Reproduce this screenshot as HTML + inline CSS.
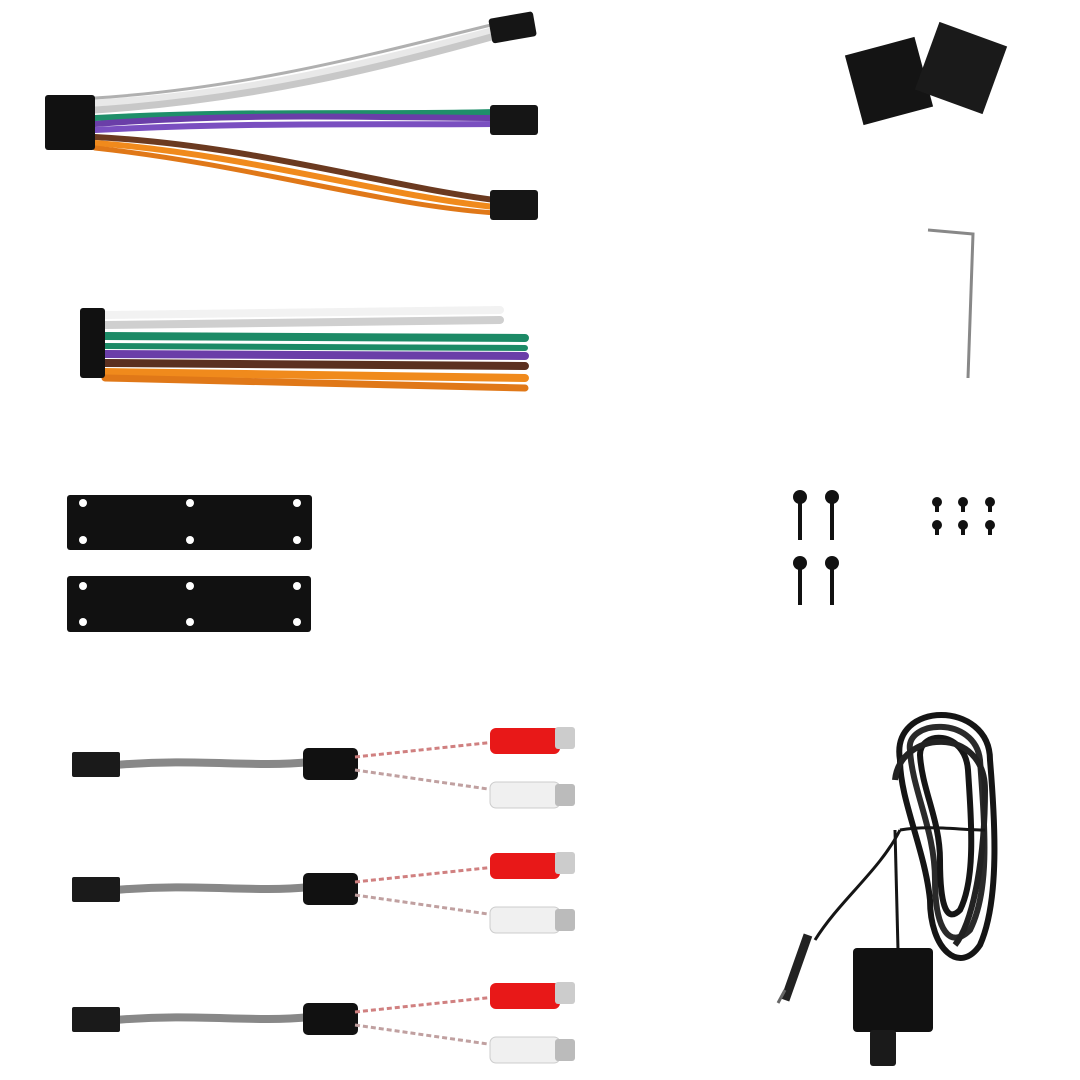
<!DOCTYPE html>
<html><head><meta charset="utf-8"><style>html,body{margin:0;padding:0;background:#fff}svg{display:block}</style></head>
<body>
<svg width="1080" height="1080" viewBox="0 0 1080 1080" xmlns="http://www.w3.org/2000/svg">
<g fill="none" stroke-linecap="round">
<path d="M95 103 C250 95 380 60 495 30" stroke="#e8e8e8" stroke-width="7"/>
<path d="M95 110 C250 100 380 68 495 36" stroke="#c8c8c8" stroke-width="7"/>
<path d="M95 98 C250 88 380 52 495 24" stroke="#b0b0b0" stroke-width="3"/>
<path d="M95 118 C250 110 380 115 495 112" stroke="#1f8f6a" stroke-width="6"/>
<path d="M95 124 C250 112 380 118 495 118" stroke="#6a3ea8" stroke-width="6"/>
<path d="M95 130 C250 122 380 125 495 124" stroke="#7a4fc0" stroke-width="6"/>
<path d="M95 137 C250 145 380 185 495 200" stroke="#6b3a20" stroke-width="6"/>
<path d="M95 143 C250 155 380 195 495 207" stroke="#f08a1c" stroke-width="6"/>
<path d="M95 148 C250 165 380 205 495 213" stroke="#e07818" stroke-width="5"/>
<path d="M105 315 L500 310" stroke="#f2f2f2" stroke-width="8"/>
<path d="M105 325 L500 320" stroke="#cfcfcf" stroke-width="8"/>
<path d="M105 336 L525 338" stroke="#1c8a66" stroke-width="8"/>
<path d="M105 346 L525 348" stroke="#1c8a66" stroke-width="6"/>
<path d="M105 354 L525 356" stroke="#6a3ea8" stroke-width="8"/>
<path d="M105 363 L525 366" stroke="#5b3020" stroke-width="8"/>
<path d="M105 372 L525 378" stroke="#f08a1c" stroke-width="8"/>
<path d="M105 378 L525 388" stroke="#e07818" stroke-width="7"/>
</g>
<rect x="45" y="95" width="50" height="55" rx="3" fill="#111"/>
<rect x="490" y="15" width="45" height="25" rx="3" fill="#151515" transform="rotate(-10 512 27)"/>
<rect x="490" y="105" width="48" height="30" rx="3" fill="#151515"/>
<rect x="490" y="190" width="48" height="30" rx="3" fill="#151515"/>
<rect x="80" y="308" width="25" height="70" rx="3" fill="#111"/>
<rect x="67" y="495" width="245" height="55" rx="3" fill="#111"/>
<rect x="67" y="576" width="244" height="56" rx="3" fill="#111"/>
<g fill="#fff">
<circle cx="83" cy="503" r="4"/><circle cx="83" cy="540" r="4"/><circle cx="190" cy="503" r="4"/><circle cx="190" cy="540" r="4"/><circle cx="297" cy="503" r="4"/><circle cx="297" cy="540" r="4"/>
<circle cx="83" cy="586" r="4"/><circle cx="83" cy="622" r="4"/><circle cx="190" cy="586" r="4"/><circle cx="190" cy="622" r="4"/><circle cx="297" cy="586" r="4"/><circle cx="297" cy="622" r="4"/>
</g>
<g id="rca">
<path d="M115 765 C200 758 250 768 310 762" stroke="#888" stroke-width="8" fill="none"/>
<rect x="72" y="752" width="48" height="25" rx="2" fill="#1a1a1a"/>
<rect x="303" y="748" width="55" height="32" rx="5" fill="#111"/>
<path d="M355 757 L495 742" stroke="#d08080" stroke-width="3" fill="none" stroke-dasharray="5 3"/>
<path d="M355 770 L495 790" stroke="#c0a0a0" stroke-width="3" fill="none" stroke-dasharray="5 3"/>
<rect x="490" y="728" width="70" height="26" rx="6" fill="#e81818"/>
<rect x="555" y="727" width="20" height="22" rx="3" fill="#ccc"/>
<rect x="490" y="782" width="70" height="26" rx="6" fill="#f0f0f0" stroke="#ccc"/>
<rect x="555" y="784" width="20" height="22" rx="3" fill="#bbb"/>
</g>
<use href="#rca" y="125"/>
<use href="#rca" y="255"/>
<rect x="853" y="45" width="72" height="72" fill="#141414" transform="rotate(-15 889 81)"/>
<rect x="925" y="32" width="72" height="72" fill="#1a1a1a" transform="rotate(20 961 68)"/>
<path d="M928 230 L973 234 L968 378" stroke="#888" stroke-width="3" fill="none"/>
<g stroke="#111" stroke-width="4">
<line x1="800" y1="495" x2="800" y2="540"/><line x1="832" y1="495" x2="832" y2="540"/>
<line x1="800" y1="560" x2="800" y2="605"/><line x1="832" y1="560" x2="832" y2="605"/>
</g>
<g fill="#111">
<circle cx="800" cy="497" r="7"/><circle cx="832" cy="497" r="7"/><circle cx="800" cy="563" r="7"/><circle cx="832" cy="563" r="7"/>
<circle cx="937" cy="502" r="5"/><circle cx="963" cy="502" r="5"/><circle cx="990" cy="502" r="5"/>
<circle cx="937" cy="525" r="5"/><circle cx="963" cy="525" r="5"/><circle cx="990" cy="525" r="5"/>
<rect x="935" y="502" width="4" height="10"/><rect x="961" y="502" width="4" height="10"/><rect x="988" y="502" width="4" height="10"/>
<rect x="935" y="525" width="4" height="10"/><rect x="961" y="525" width="4" height="10"/><rect x="988" y="525" width="4" height="10"/>
</g>
<g fill="none" stroke="#151515" stroke-width="6">
<path d="M900 760 C890 700 990 700 990 760 C995 820 1000 900 980 945 C960 975 930 950 930 900 C925 850 900 800 900 760Z"/>
<path d="M910 750 C905 720 975 715 980 760 C985 830 990 890 970 930 C950 950 935 930 935 880 C935 830 912 790 910 750Z" stroke="#2a2a2a"/>
<path d="M920 755 C920 730 965 730 968 770 C972 830 975 880 960 910 C945 925 940 900 940 860 C940 820 922 790 920 755Z"/>
<path d="M895 780 C900 730 985 725 985 790 C985 850 975 920 955 945" stroke="#222"/>
<path d="M900 830 C930 825 960 830 985 830" stroke-width="3"/>
<path d="M900 830 C880 870 840 900 815 940" stroke-width="3"/>
<path d="M895 830 L898 950" stroke-width="3"/>
</g>
<path d="M808 935 L785 1000" stroke="#222" stroke-width="9"/>
<path d="M785 990 L778 1003" stroke="#666" stroke-width="3"/>
<rect x="853" y="948" width="80" height="84" rx="4" fill="#111"/>
<rect x="870" y="1030" width="26" height="36" rx="3" fill="#1a1a1a"/>
</svg>
</body></html>
